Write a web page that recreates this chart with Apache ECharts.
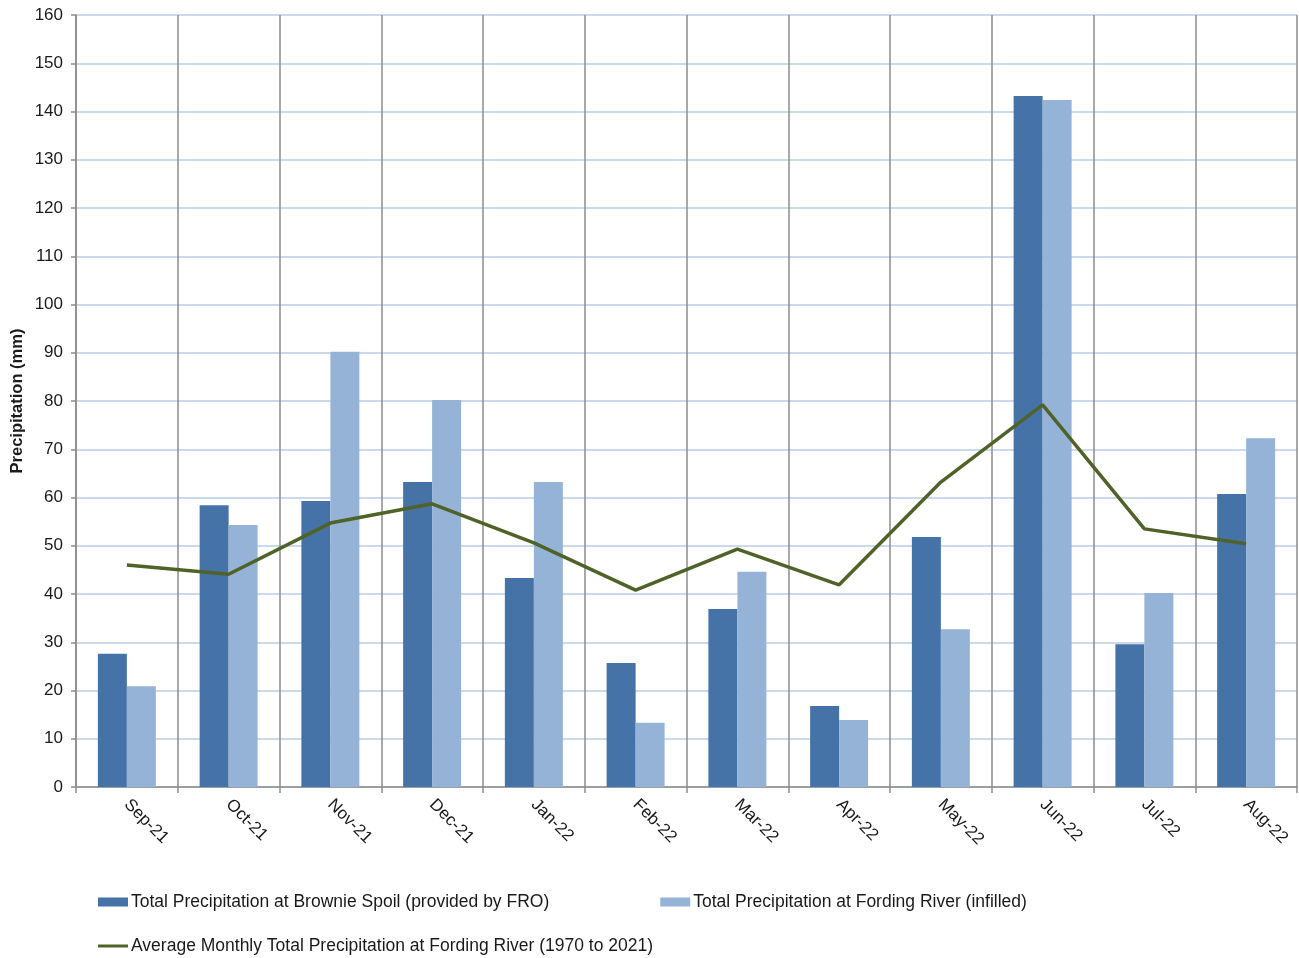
<!DOCTYPE html>
<html>
<head>
<meta charset="utf-8">
<script src="https://cdn.jsdelivr.net/npm/echarts@6/dist/echarts.min.js"></script>
<style>html,body{margin:0;padding:0;background:#fff}#c{width:1299px;height:958px}</style>
</head>
<body>
<div id="c"></div>
<script>
var categories = ['Sep-21','Oct-21','Nov-21','Dec-21','Jan-22','Feb-22','Mar-22','Apr-22','May-22','Jun-22','Jul-22','Aug-22'];
var brownie = [27.6, 58.4, 59.3, 63.2, 43.3, 25.7, 36.9, 16.8, 51.8, 143.2, 29.6, 60.7];
var fording = [20.9, 54.3, 90.2, 80.2, 63.2, 13.3, 44.6, 13.9, 32.7, 142.4, 40.2, 72.3];
var average = [46.0, 44.1, 54.7, 58.7, 50.6, 40.8, 49.3, 41.9, 63.2, 79.2, 53.5, 50.4];
var names = ['Total Precipitation at Brownie Spoil (provided by FRO)', 'Total Precipitation at Fording River (infilled)', 'Average Monthly Total Precipitation at Fording River (1970 to 2021)'];

var chart = echarts.init(document.getElementById('c'));
var font = 'Liberation Sans, Arial, sans-serif';
chart.setOption({
  animation: false,
  textStyle: {fontFamily: font},
  grid: {left: 76, right: 2, top: 15, bottom: 171, outerBoundsMode: 'none', containLabel: false},
  legend: [
    {data: [names[0], names[1]], left: 98, top: 893, padding: 0, itemWidth: 30, itemHeight: 9, itemGap: 111,
     textStyle: {fontSize: 17.5, color: '#1a1a1a', fontFamily: font, padding: [0, 0, 0, -2]}, icon: 'rect'},
    {data: [names[2]], left: 98, top: 937, padding: 0, itemWidth: 30, itemHeight: 3,
     textStyle: {fontSize: 17.5, color: '#1a1a1a', fontFamily: font, padding: [0, 0, 0, -2]}, icon: 'rect'}
  ],
  xAxis: {
    type: 'category', data: categories,
    axisLine: {lineStyle: {color: '#8c8c8c', width: 1.5}},
    axisTick: {show: true, length: 6, lineStyle: {color: '#8c8c8c', width: 1.5}},
    splitLine: {show: true, lineStyle: {color: '#8c8c8c', width: 1.5}},
    axisLabel: {rotate: -45, fontSize: 17, color: '#1a1a1a', margin: 15, fontFamily: font}
  },
  yAxis: {
    type: 'value', min: 0, max: 160, interval: 10,
    name: 'Precipitation (mm)', nameLocation: 'middle', nameGap: 50, nameRotate: 90, nameMoveOverlap: false,
    nameTextStyle: {fontSize: 16.5, fontWeight: 'bold', color: '#1a1a1a', fontFamily: font},
    axisLine: {show: true, lineStyle: {color: '#8c8c8c', width: 1.5}},
    axisTick: {show: true, length: 5, lineStyle: {color: '#8c8c8c', width: 1.5}},
    splitLine: {lineStyle: {color: '#b9cde5', width: 1.5}},
    axisLabel: {fontSize: 17, color: '#1a1a1a', margin: 13, fontFamily: font}
  },
  series: [
    {name: names[0], type: 'bar', data: brownie, barGap: '0%', barCategoryGap: '43%', itemStyle: {color: '#4573a7'}},
    {name: names[1], type: 'bar', data: fording, barGap: '0%', barCategoryGap: '43%', itemStyle: {color: '#95b3d7'}},
    {name: names[2], type: 'line', data: average, symbol: 'none', lineStyle: {color: '#4f6228', width: 3.5}, itemStyle: {color: '#4f6228'}, z: 5}
  ]
});
</script>
</body>
</html>
